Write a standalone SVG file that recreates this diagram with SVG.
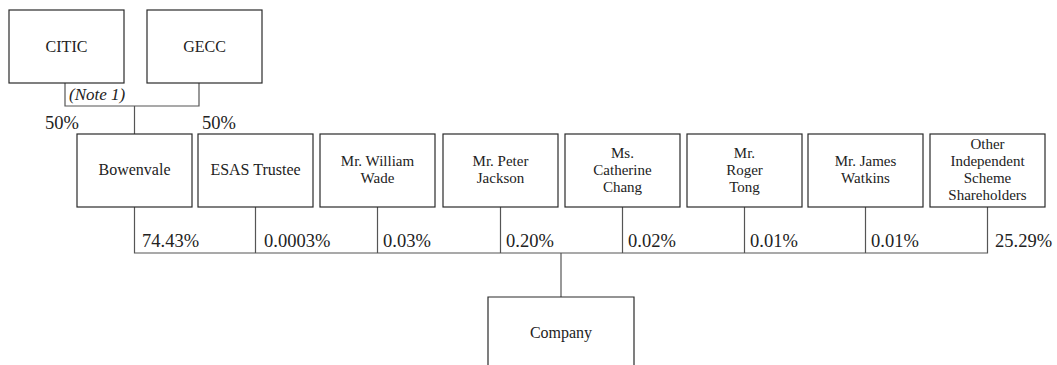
<svg xmlns="http://www.w3.org/2000/svg" width="1057" height="365" viewBox="0 0 1057 365" font-family="'Liberation Serif', 'DejaVu Serif', serif">
<style>
text{font-family:'Liberation Serif','DejaVu Serif',serif}
.box{fill:#fff;stroke:#2a2a2a;stroke-width:1.2}
.t{font-size:16px;fill:#222;text-anchor:middle}
.m{font-size:15px;fill:#222;text-anchor:middle}
.p{font-size:18.5px;fill:#222}
.n{font-size:17px;font-style:italic;fill:#222}
.c{fill:none;stroke:#555;stroke-width:1.2}
</style>
<rect width="1057" height="365" fill="#fff"/>
<g id="connectors">
<polyline class="c" points="65,83 65,106 199,106 199,83"/>
<line class="c" x1="134.5" y1="106" x2="134.5" y2="134"/>
<polyline class="c" points="134.5,207 134.5,253 987.5,253 987.5,207"/>
<line class="c" x1="255.5" y1="207" x2="255.5" y2="253"/>
<line class="c" x1="377.5" y1="207" x2="377.5" y2="253"/>
<line class="c" x1="500.5" y1="207" x2="500.5" y2="253"/>
<line class="c" x1="622.5" y1="207" x2="622.5" y2="253"/>
<line class="c" x1="744.5" y1="207" x2="744.5" y2="253"/>
<line class="c" x1="865.5" y1="207" x2="865.5" y2="253"/>
<line class="c" x1="561" y1="253" x2="561" y2="297"/>
<text class="n" x="69" y="100">(Note 1)</text>
<text class="p" x="45" y="129">50%</text>
<text class="p" x="202" y="129">50%</text>
<text class="p" x="142" y="247">74.43%</text>
<text class="p" x="264" y="247">0.0003%</text>
<text class="p" x="383" y="247">0.03%</text>
<text class="p" x="506" y="247">0.20%</text>
<text class="p" x="628" y="247">0.02%</text>
<text class="p" x="750" y="247">0.01%</text>
<text class="p" x="871" y="247">0.01%</text>
<text class="p" x="995" y="247">25.29%</text>
</g>
<g id="citic"><rect class="box" x="9" y="10" width="115" height="73"/><text class="t" x="66.5" y="52">CITIC</text></g>
<g id="gecc"><rect class="box" x="147" y="10" width="115" height="73"/><text class="t" x="204.5" y="52">GECC</text></g>
<g id="bowenvale"><rect class="box" x="77" y="134" width="115" height="73"/><text class="t" x="134.5" y="175">Bowenvale</text></g>
<g id="esas"><rect class="box" x="198" y="134" width="115" height="73"/><text class="t" x="255.5" y="175">ESAS Trustee</text></g>
<g id="wade"><rect class="box" x="320" y="134" width="115" height="73"/><text class="m" x="377.5" y="166">Mr. William</text><text class="m" x="377.5" y="183">Wade</text></g>
<g id="jackson"><rect class="box" x="443" y="134" width="115" height="73"/><text class="m" x="500.5" y="166">Mr. Peter</text><text class="m" x="500.5" y="183">Jackson</text></g>
<g id="chang"><rect class="box" x="565" y="134" width="115" height="73"/><text class="m" x="622.5" y="157.5">Ms.</text><text class="m" x="622.5" y="174.5">Catherine</text><text class="m" x="622.5" y="191.5">Chang</text></g>
<g id="tong"><rect class="box" x="687" y="134" width="115" height="73"/><text class="m" x="744.5" y="157.5">Mr.</text><text class="m" x="744.5" y="174.5">Roger</text><text class="m" x="744.5" y="191.5">Tong</text></g>
<g id="watkins"><rect class="box" x="808" y="134" width="115" height="73"/><text class="m" x="865.5" y="166">Mr. James</text><text class="m" x="865.5" y="183">Watkins</text></g>
<g id="others"><rect class="box" x="930" y="134" width="115" height="73"/><text class="m" x="987.5" y="149">Other</text><text class="m" x="987.5" y="166">Independent</text><text class="m" x="987.5" y="183">Scheme</text><text class="m" x="987.5" y="200">Shareholders</text></g>
<g id="company"><path class="box" d="M488,366 V297 H634 V366"/><text class="t" x="561" y="338">Company</text></g>
</svg>
